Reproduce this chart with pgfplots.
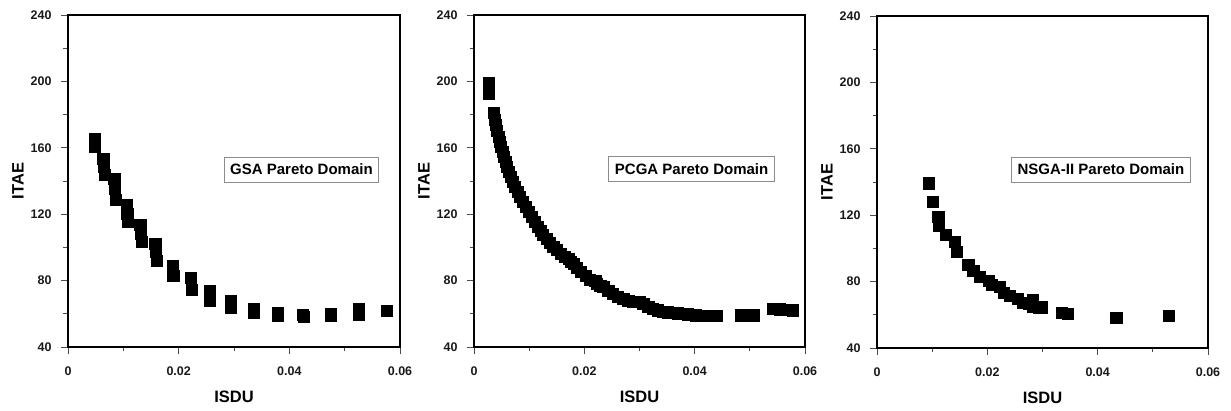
\documentclass[border=0pt]{standalone}
\usepackage{fontspec}
\setmainfont{Liberation Sans}
\usepackage{pgfplots}
\pgfplotsset{compat=1.18}

% Pareto fronts (ISDU, ITAE) of the three optimisers
\pgfplotstableread{
x y
0.00488 165.5
0.00488 160.7
0.00640 153.3
0.00655 148.4
0.00665 143.6
0.00840 141.4
0.00850 135.2
0.00860 128.6
0.01065 125.5
0.01075 120.1
0.01085 115.3
0.01310 113.5
0.01320 108.1
0.01330 103.3
0.01580 102.2
0.01590 97.2
0.01600 92.0
0.01890 88.8
0.01905 83.0
0.02225 81.7
0.02240 74.3
0.02560 73.7
0.02570 67.9
0.02940 67.7
0.02950 63.5
0.03355 62.7
0.03365 60.5
0.03790 60.3
0.03800 58.9
0.04250 59.1
0.04260 58.3
0.04750 59.7
0.04755 58.5
0.05255 62.7
0.05260 59.5
0.05760 61.7
}\gsadata

\pgfplotstableread{
x y
0.00264 199.0
0.00264 192.4
0.00355 180.8
0.00375 177.0
0.00395 173.7
0.00420 170.0
0.00446 166.7
0.00470 163.5
0.00494 160.5
0.00518 157.5
0.00543 154.6
0.00572 151.5
0.00603 148.4
0.00636 145.5
0.00670 142.6
0.00708 139.5
0.00748 136.4
0.00792 133.4
0.00839 130.5
0.00888 127.3
0.00938 124.3
0.00992 121.3
0.01050 118.5
0.01105 115.3
0.01165 112.3
0.01210 110.0
0.01255 107.5
0.01318 105.0
0.01382 102.7
0.01440 100.5
0.01503 98.4
0.01578 96.2
0.01653 94.2
0.01720 93.0
0.01760 91.5
0.01804 90.0
0.01870 87.5
0.01943 85.2
0.02025 82.7
0.02106 80.4
0.02200 80.0
0.02233 78.0
0.02290 77.0
0.02347 76.0
0.02435 73.8
0.02523 71.9
0.02615 70.3
0.02709 68.9
0.02800 68.0
0.02885 67.1
0.03000 67.2
0.03071 65.9
0.03160 64.3
0.03247 62.9
0.03340 62.0
0.03434 61.1
0.03520 60.8
0.03609 60.5
0.03700 60.2
0.03796 59.9
0.03875 59.6
0.03953 59.3
0.04025 59.0
0.04098 58.7
0.04170 58.7
0.04243 58.7
0.04320 58.7
0.04406 58.7
0.04841 59.0
0.04960 59.0
0.05076 59.0
0.05420 62.9
0.05547 62.6
0.05674 62.3
0.05782 62.0
}\pcgadata

\pgfplotstableread{
x y
0.00934 139.2
0.01006 128.1
0.01111 119.1
0.01124 113.5
0.01245 108.1
0.01414 104.0
0.01445 98.0
0.01655 90.0
0.01746 86.4
0.01867 83.0
0.02030 80.5
0.02080 78.0
0.02230 77.0
0.02300 73.4
0.02410 71.4
0.02550 69.4
0.02650 67.4
0.02760 66.4
0.02830 68.9
0.02820 64.9
0.02940 64.4
0.02980 64.4
0.03354 61.1
0.03462 60.6
0.04338 58.2
0.05284 59.2
}\nsgadata

\pgfplotsset{
  pareto/.style={
    scale only axis,
    width=331pt, height=332pt,
    xmin=0, xmax=0.06, ymin=40, ymax=240,
    scaled x ticks=false,
    xtick={0,0.02,0.04,0.06}, xticklabels={0,0.02,0.04,0.06},
    minor xtick={0.01,0.03,0.05},
    ytick={40,80,120,160,200,240}, yticklabels={40,80,120,160,200,240},
    minor ytick={60,100,140,180,220},
    tick pos=left, tick align=outside,
    major tick length=7pt, minor tick length=4.5pt,
    every tick/.style={black!70, line width=0.9pt},
    axis line style={line width=1.8pt, black},
    ticklabel style={font=\fontsize{12.5}{12.5}\selectfont\bfseries, text=black!90},
    xticklabel style={yshift=-9pt},
    yticklabel style={xshift=-6pt},
    every axis x label/.style={at={(axis description cs:0.5,0)}, yshift=-50pt,
      anchor=center, font=\fontsize{16.5}{16.5}\selectfont\bfseries},
    every axis y label/.style={at={(axis description cs:0,0.5)}, xshift=-50pt,
      rotate=90, anchor=center, font=\fontsize{16.5}{16.5}\selectfont\bfseries},
    xlabel={ISDU}, ylabel={ITAE},
  },
  front/.style={only marks, mark=square*, mark size=5.6pt, black,
    mark options={line width=0.8pt}},
}
\tikzset{
  domainbox/.style={draw=black!45, line width=0.9pt, fill=white,
    font=\fontsize{15}{15}\selectfont\bfseries, inner xsep=6pt,
    minimum height=25pt, anchor=center},
}

\begin{document}
\begin{tikzpicture}
\useasboundingbox (0,0) rectangle (1231pt,411pt);

\begin{axis}[pareto, at={(68pt,64pt)}, anchor=south west, width=332pt]
  \addplot[front] table {\gsadata};
  \node[domainbox] at (rel axis cs:0.7033,0.5346) {GSA Pareto Domain};
\end{axis}

\begin{axis}[pareto, at={(474pt,64pt)}, anchor=south west]
  \addplot[front] table {\pcgadata};
  \node[domainbox] at (rel axis cs:0.6574,0.536) {PCGA Pareto Domain};
\end{axis}

\begin{axis}[pareto, at={(877pt,63pt)}, anchor=south west]
  \addplot[front] table {\nsgadata};
  \node[domainbox] at (rel axis cs:0.6767,0.5377) {NSGA-II Pareto Domain};
\end{axis}
\end{tikzpicture}
\end{document}
